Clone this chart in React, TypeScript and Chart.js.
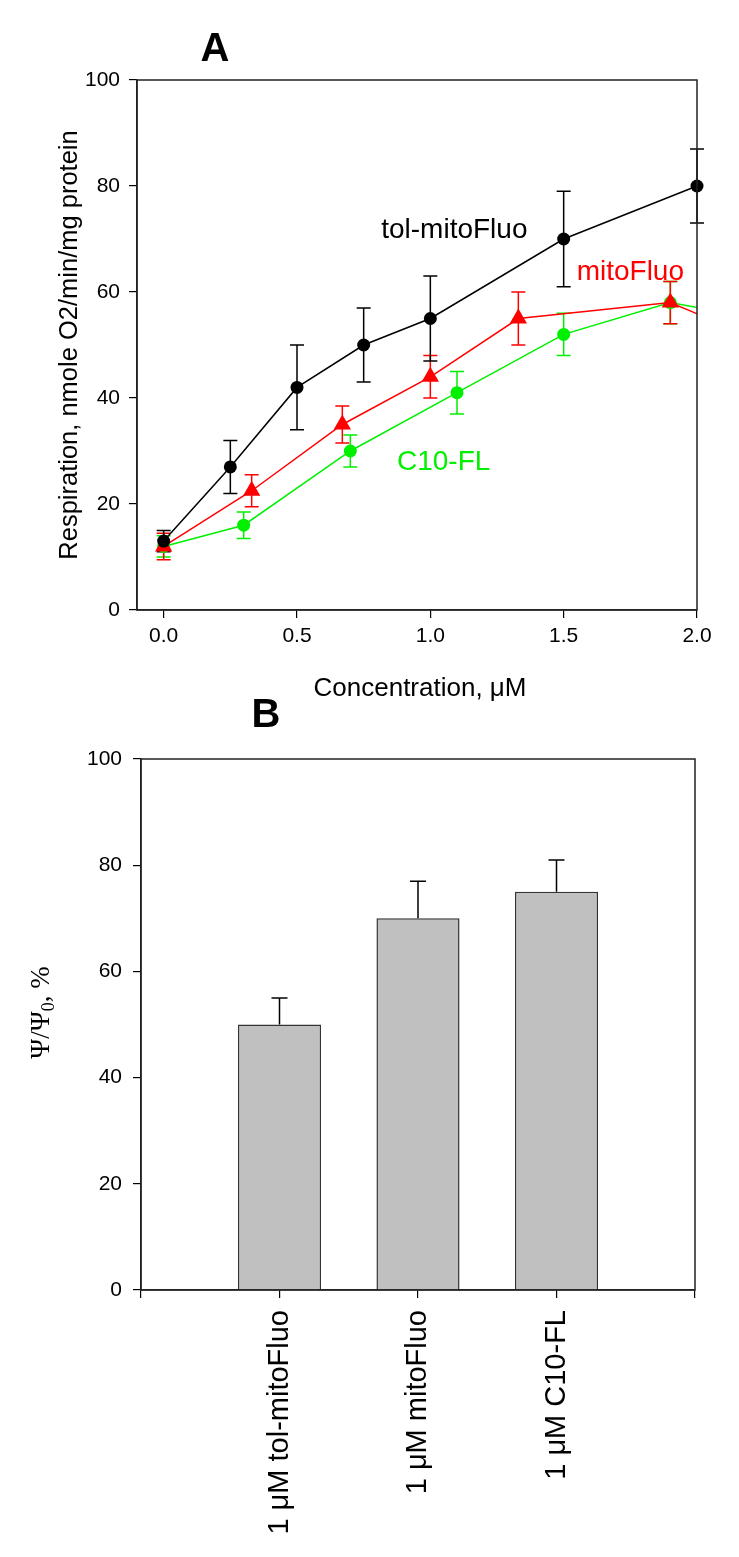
import React, { useEffect, useRef } from 'react';
import { Chart, registerables } from 'chart.js';

Chart.register(...registerables);

const FONT = '"Liberation Sans", Arial, Helvetica, sans-serif';
const SERIF = '"Liberation Serif", "Times New Roman", serif';

// ---------- Panel A data ----------
const concTicks = [0, 0.5, 1.0, 1.5, 2.0];

const tolX = [0, 0.25, 0.5, 0.75, 1.0, 1.5, 2.0];
const tolY = [13, 27, 42, 50, 55, 70, 80];
const tolErr = [2, 5, 8, 7, 8, 9, 7];

const mitoX = [0, 0.33, 0.67, 1.0, 1.33, 1.9, 2.33];
const mitoY = [12, 22.5, 35, 44, 55, 58, 49];
const mitoErr = [2.5, 3, 3.5, 4, 5, 4, 4];

const c10X = [0, 0.3, 0.7, 1.1, 1.5, 1.9, 2.33];
const c10Y = [12, 16, 30, 41, 52, 58, 54];
const c10Err = [2, 2.5, 3, 4, 4, 4, 4];

const seriesNames = ['tol-mitoFluo', 'mitoFluo', 'C10-FL'];
const seriesColors = ['#000000', '#ff0000', '#00f000'];
// anchors of the in-plot series labels (data coordinates)
const labelAnchorX = [1.09, 1.75, 1.05];
const labelAnchorY = [71.7, 63.8, 27.9];

// ---------- Panel B data ----------
const barTickPositions = [0, 1, 2, 3, 4];
const barCategories = ['', '1 μM tol-mitoFluo', '1 μM mitoFluo', '1 μM C10-FL', ''];
const barPositions = [1, 2, 3];
const barValues = [50, 70, 75];
const barErr = [5, 7, 6];

type ErrSeries = { dataset: number; values: number[]; errors: number[]; color: string; upOnly?: boolean; cap: number };

function makeErrorPlugin(series: ErrSeries[], phase: 'before' | 'after') {
  const draw = (chart: any) => {
    const { ctx, chartArea } = chart;
    const yScale = chart.scales.y;
    series.forEach((s) => {
      const meta = chart.getDatasetMeta(s.dataset);
      meta.data.forEach((el: any, j: number) => {
        const x = el.x;
        if (x < chartArea.left - 1 || x > chartArea.right + 1) return;
        const v = s.values[j];
        const e = s.errors[j];
        const top = yScale.getPixelForValue(v + e);
        const bot = s.upOnly ? yScale.getPixelForValue(v) : yScale.getPixelForValue(v - e);
        ctx.save();
        ctx.strokeStyle = s.color;
        ctx.lineWidth = 1.5;
        ctx.beginPath();
        ctx.moveTo(x, top);
        ctx.lineTo(x, bot);
        ctx.moveTo(x - s.cap, top);
        ctx.lineTo(x + s.cap, top);
        if (!s.upOnly) {
          ctx.moveTo(x - s.cap, bot);
          ctx.lineTo(x + s.cap, bot);
        }
        ctx.stroke();
        ctx.restore();
      });
    });
  };
  return phase === 'before'
    ? { id: 'errBefore', beforeDatasetsDraw: draw }
    : { id: 'errAfter', afterDatasetsDraw: draw };
}

const framePlugin = {
  id: 'frame',
  afterDraw(chart: any) {
    const { ctx, chartArea } = chart;
    ctx.save();
    ctx.strokeStyle = '#222';
    ctx.lineWidth = 1.5;
    ctx.strokeRect(chartArea.left, chartArea.top, chartArea.right - chartArea.left, chartArea.bottom - chartArea.top);
    ctx.restore();
  },
};

const axisCommon = {
  grid: { display: true, drawOnChartArea: false, drawTicks: true, tickLength: 8, color: '#000', lineWidth: 1.2 },
  border: { display: true, color: '#222', width: 1.5 },
};

export default function App() {
  const refA = useRef<HTMLCanvasElement>(null);
  const refB = useRef<HTMLCanvasElement>(null);

  useEffect(() => {
    const textPluginA = {
      id: 'textA',
      afterDraw(chart: any) {
        const { ctx, chartArea, scales } = chart;
        ctx.save();
        // panel letter
        ctx.fillStyle = '#000';
        ctx.font = `bold 40px ${FONT}`;
        ctx.textAlign = 'center';
        ctx.textBaseline = 'alphabetic';
        ctx.fillText('A', 215, 61);
        // series labels
        ctx.font = `28px ${FONT}`;
        ctx.textBaseline = 'middle';
        seriesNames.forEach((name, i) => {
          ctx.fillStyle = seriesColors[i];
          ctx.fillText(name, scales.x.getPixelForValue(labelAnchorX[i]), scales.y.getPixelForValue(labelAnchorY[i]));
        });
        // x title
        ctx.fillStyle = '#000';
        ctx.font = `26px ${FONT}`;
        ctx.textBaseline = 'alphabetic';
        ctx.fillText('Concentration, μM', (chartArea.left + chartArea.right) / 2 + 3, 696);
        // y title
        ctx.translate(70, (chartArea.top + chartArea.bottom) / 2);
        ctx.rotate(-Math.PI / 2);
        ctx.textBaseline = 'middle';
        ctx.font = `25.5px ${FONT}`;
        ctx.fillText('Respiration, nmole O2/min/mg protein', 0, 0);
        ctx.restore();
      },
    };

    const chartA = new Chart(refA.current!, {
      type: 'scatter',
      data: {
        datasets: [
          {
            label: seriesNames[0],
            data: tolX.map((x, i) => ({ x, y: tolY[i] })),
            showLine: true,
            borderColor: seriesColors[0],
            backgroundColor: seriesColors[0],
            borderWidth: 1.5,
            pointStyle: 'circle',
            pointRadius: 6.5,
            pointBorderWidth: 0,
            clip: false as any,
          },
          {
            label: seriesNames[1],
            data: mitoX.map((x, i) => ({ x, y: mitoY[i] })),
            showLine: true,
            borderColor: seriesColors[1],
            backgroundColor: seriesColors[1],
            borderWidth: 1.5,
            pointStyle: 'triangle',
            pointRadius: 10,
            pointBorderWidth: 0,
            clip: { left: 20, top: 20, right: 0, bottom: 20 } as any,
          },
          {
            label: seriesNames[2],
            data: c10X.map((x, i) => ({ x, y: c10Y[i] })),
            showLine: true,
            borderColor: seriesColors[2],
            backgroundColor: seriesColors[2],
            borderWidth: 1.5,
            pointStyle: 'circle',
            pointRadius: 6.5,
            pointBorderWidth: 0,
            clip: { left: 20, top: 20, right: 0, bottom: 20 } as any,
          },
        ],
      },
      options: {
        animation: false,
        responsive: false,
        events: [],
        layout: { padding: { left: 0, right: 42, top: 80, bottom: 0 } },
        plugins: { legend: { display: false }, tooltip: { enabled: false }, title: { display: false } },
        scales: {
          x: {
            type: 'linear',
            min: -0.1,
            max: 2.0,
            afterBuildTicks: (ax: any) => {
              ax.ticks = concTicks.map((v) => ({ value: v }));
            },
            afterFit: (ax: any) => {
              ax.height = 95;
            },
            ticks: {
              callback: (v: any) => Number(v).toFixed(1),
              font: { family: FONT, size: 21 },
              color: '#000',
              padding: 6,
              maxRotation: 0,
              autoSkip: false,
            },
            ...axisCommon,
          },
          y: {
            min: 0,
            max: 100,
            afterFit: (ax: any) => {
              ax.width = 137;
            },
            ticks: { stepSize: 20, font: { family: FONT, size: 21 }, color: '#000', padding: 9 },
            ...axisCommon,
          },
        },
      } as any,
      plugins: [
        makeErrorPlugin(
          [
            { dataset: 2, values: c10Y, errors: c10Err, color: seriesColors[2], cap: 7 },
            { dataset: 1, values: mitoY, errors: mitoErr, color: seriesColors[1], cap: 7 },
            { dataset: 0, values: tolY, errors: tolErr, color: seriesColors[0], cap: 7 },
          ],
          'before'
        ),
        framePlugin,
        textPluginA,
      ],
    });

    const textPluginB = {
      id: 'textB',
      afterDraw(chart: any) {
        const { ctx, chartArea } = chart;
        ctx.save();
        ctx.fillStyle = '#000';
        ctx.font = `bold 40px ${FONT}`;
        ctx.textAlign = 'center';
        ctx.textBaseline = 'alphabetic';
        ctx.fillText('B', 266, 42);
        // y title  Ψ/Ψ0, %
        ctx.translate(42, (chartArea.top + chartArea.bottom) / 2 - 12);
        ctx.rotate(-Math.PI / 2);
        ctx.textBaseline = 'middle';
        ctx.textAlign = 'left';
        const mainFont = `27px ${SERIF}`;
        const subFont = `18px ${SERIF}`;
        ctx.font = mainFont;
        const w1 = ctx.measureText('Ψ/Ψ').width;
        const w3 = ctx.measureText(', %').width;
        ctx.font = subFont;
        const w2 = ctx.measureText('0').width;
        let x = -(w1 + w2 + w3) / 2;
        ctx.font = mainFont;
        ctx.fillText('Ψ/Ψ', x, 0);
        x += w1;
        ctx.font = subFont;
        ctx.fillText('0', x, 7);
        x += w2;
        ctx.font = mainFont;
        ctx.fillText(', %', x, 0);
        ctx.restore();
      },
    };

    const chartB = new Chart(refB.current!, {
      type: 'bar',
      data: {
        datasets: [
          {
            data: barPositions.map((x, i) => ({ x, y: barValues[i] })),
            backgroundColor: '#c0c0c0',
            borderColor: '#333333',
            borderWidth: 1.5,
            barPercentage: 0.75,
            categoryPercentage: 0.8,
          },
        ],
      },
      options: {
        animation: false,
        responsive: false,
        events: [],
        layout: { padding: { left: 0, right: 44, top: 74, bottom: 0 } },
        plugins: { legend: { display: false }, tooltip: { enabled: false }, title: { display: false } },
        scales: {
          x: {
            type: 'linear',
            min: 0,
            max: 4,
            offset: false,
            afterBuildTicks: (ax: any) => {
              ax.ticks = barTickPositions.map((v) => ({ value: v }));
            },
            afterFit: (ax: any) => {
              ax.height = 267;
              ax.paddingLeft = 0;
              ax.paddingRight = 0;
            },
            ticks: {
              callback: (v: any) => barCategories[barTickPositions.indexOf(Number(v))] ?? '',
              font: { family: FONT, size: 29 },
              color: '#000',
              padding: 12,
              minRotation: 90,
              maxRotation: 90,
              autoSkip: false,
            },
            ...axisCommon,
            grid: { ...axisCommon.grid, offset: false },
          },
          y: {
            min: 0,
            max: 100,
            afterFit: (ax: any) => {
              ax.width = 141;
            },
            ticks: { stepSize: 20, font: { family: FONT, size: 21 }, color: '#000', padding: 11 },
            ...axisCommon,
          },
        },
      } as any,
      plugins: [
        makeErrorPlugin([{ dataset: 0, values: barValues, errors: barErr, color: '#000', upOnly: true, cap: 8 }], 'after'),
        framePlugin,
        textPluginB,
      ],
    });

    return () => {
      chartA.destroy();
      chartB.destroy();
    };
  }, []);

  return (
    <div style={{ position: 'absolute', left: 0, top: 0, width: 739, height: 1557, background: '#fff' }}>
      <canvas ref={refA} width={739} height={705} style={{ position: 'absolute', left: 0, top: 0, width: 739, height: 705 }} />
      <canvas ref={refB} width={739} height={872} style={{ position: 'absolute', left: 0, top: 685, width: 739, height: 872 }} />
    </div>
  );
}
